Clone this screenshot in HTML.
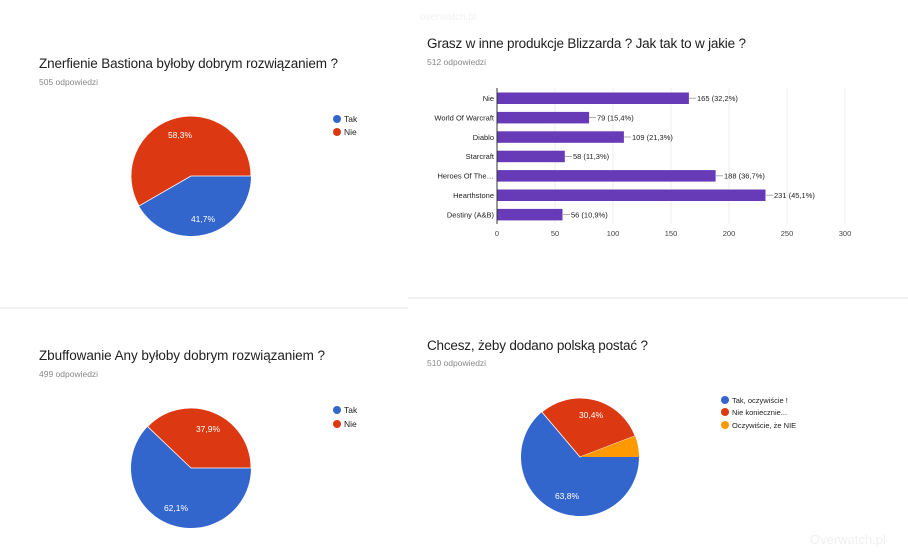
<!DOCTYPE html>
<html><head><meta charset="utf-8"><style>
html,body{margin:0;padding:0;background:#fff;width:908px;height:558px;overflow:hidden}
svg{display:block;font-family:"Liberation Sans",sans-serif}
</style></head><body>
<svg width="908" height="558" viewBox="0 0 908 558" xmlns="http://www.w3.org/2000/svg">
<rect width="908" height="558" fill="#fff"/>
<line x1="0" y1="308" x2="408" y2="308" stroke="#e6e6e6" stroke-width="1"/>
<line x1="408" y1="298" x2="908" y2="298" stroke="#e6e6e6" stroke-width="1"/>
<text x="420" y="20" font-size="10" fill="#f2f2f2">overwatch.pl</text>

<!-- Panel 1 -->
<text x="39" y="68" font-size="13.5" fill="#212121" textLength="299">Znerfienie Bastiona byłoby dobrym rozwiązaniem ?</text>
<text x="39" y="85" font-size="8.5" fill="#888">505 odpowiedzi</text>
<path d="M191,176 L251,176 A60,60 0 0 1 139,206 Z" fill="#3366cc"/>
<path d="M191,176 L139,206 A60,60 0 1 1 251,176 Z" fill="#dc3912" stroke="#fff" stroke-width="0.8"/>
<text x="180" y="138" font-size="8.5" fill="#fff" text-anchor="middle">58,3%</text>
<text x="203" y="222" font-size="8.5" fill="#fff" text-anchor="middle">41,7%</text>
<circle cx="337" cy="119" r="4" fill="#3366cc"/><text x="344" y="122" font-size="8.5" fill="#222">Tak</text>
<circle cx="337" cy="132" r="4" fill="#dc3912"/><text x="344" y="135" font-size="8.5" fill="#222">Nie</text>

<!-- Panel 2 bar -->
<text x="427" y="48" font-size="13.5" fill="#212121" textLength="319">Grasz w inne produkcje Blizzarda ? Jak tak to w jakie ?</text>
<text x="427" y="65" font-size="8.5" fill="#888">512 odpowiedzi</text>
<g stroke="#ececec" stroke-width="1">
<line x1="555" y1="88" x2="555" y2="224"/><line x1="613" y1="88" x2="613" y2="224"/>
<line x1="671" y1="88" x2="671" y2="224"/><line x1="729" y1="88" x2="729" y2="224"/>
<line x1="787" y1="88" x2="787" y2="224"/><line x1="845" y1="88" x2="845" y2="224"/>
</g>
<line x1="497" y1="88" x2="497" y2="224" stroke="#333" stroke-width="1"/>
<g fill="#673ab7">
<rect x="497.5" y="92.5" width="191.4" height="11.5"/>
<rect x="497.5" y="111.9" width="91.6" height="11.5"/>
<rect x="497.5" y="131.3" width="126.4" height="11.5"/>
<rect x="497.5" y="150.7" width="67.3" height="11.5"/>
<rect x="497.5" y="170.1" width="218.1" height="11.5"/>
<rect x="497.5" y="189.5" width="268" height="11.5"/>
<rect x="497.5" y="208.9" width="65" height="11.5"/>
</g>
<g font-size="7.5" fill="#222" text-anchor="end">
<text x="494" y="101">Nie</text>
<text x="494" y="120.4">World Of Warcraft</text>
<text x="494" y="139.8">Diablo</text>
<text x="494" y="159.2">Starcraft</text>
<text x="494" y="178.6">Heroes Of The…</text>
<text x="494" y="198">Hearthstone</text>
<text x="494" y="217.4">Destiny (A&amp;B)</text>
</g>
<g stroke="#999" stroke-width="0.8">
<line x1="689" y1="98.2" x2="696" y2="98.2"/><line x1="589" y1="117.6" x2="596" y2="117.6"/>
<line x1="624" y1="137" x2="631" y2="137"/><line x1="565" y1="156.4" x2="572" y2="156.4"/>
<line x1="716" y1="175.8" x2="723" y2="175.8"/><line x1="766" y1="195.2" x2="773" y2="195.2"/>
<line x1="563" y1="214.6" x2="570" y2="214.6"/>
</g>
<g font-size="7.5" fill="#222">
<text x="697" y="101">165 (32,2%)</text>
<text x="597" y="120.4">79 (15,4%)</text>
<text x="632" y="139.8">109 (21,3%)</text>
<text x="573" y="159.2">58 (11,3%)</text>
<text x="724" y="178.6">188 (36,7%)</text>
<text x="774" y="198">231 (45,1%)</text>
<text x="571" y="217.4">56 (10,9%)</text>
</g>
<g font-size="7.5" fill="#444" text-anchor="middle">
<text x="497" y="236">0</text><text x="555" y="236">50</text><text x="613" y="236">100</text>
<text x="671" y="236">150</text><text x="729" y="236">200</text><text x="787" y="236">250</text><text x="845" y="236">300</text>
</g>

<!-- Panel 3 -->
<text x="39" y="360" font-size="13.5" fill="#212121" textLength="286">Zbuffowanie Any byłoby dobrym rozwiązaniem ?</text>
<text x="39" y="377" font-size="8.5" fill="#888">499 odpowiedzi</text>
<path d="M191,468 L251,468 A60,60 0 1 1 147.6,426.6 Z" fill="#3366cc"/>
<path d="M191,468 L147.6,426.6 A60,60 0 0 1 251,468 Z" fill="#dc3912" stroke="#fff" stroke-width="0.8"/>
<text x="208" y="432" font-size="8.5" fill="#fff" text-anchor="middle">37,9%</text>
<text x="176" y="511" font-size="8.5" fill="#fff" text-anchor="middle">62,1%</text>
<circle cx="337" cy="410" r="4" fill="#3366cc"/><text x="344" y="413" font-size="8.5" fill="#222">Tak</text>
<circle cx="337" cy="424" r="4" fill="#dc3912"/><text x="344" y="427" font-size="8.5" fill="#222">Nie</text>

<!-- Panel 4 -->
<text x="427" y="350" font-size="13.5" fill="#212121" textLength="221">Chcesz, żeby dodano polską postać ?</text>
<text x="427" y="366" font-size="8.5" fill="#888">510 odpowiedzi</text>
<path d="M580,457 L639,457 A59,59 0 1 1 541.9,412 Z" fill="#3366cc"/>
<path d="M580,457 L541.9,412 A59,59 0 0 1 635.1,435.9 Z" fill="#dc3912" stroke="#fff" stroke-width="0.8"/>
<path d="M580,457 L635.1,435.9 A59,59 0 0 1 639,457 Z" fill="#ff9900"/>
<text x="591" y="418" font-size="8.5" fill="#fff" text-anchor="middle">30,4%</text>
<text x="567" y="499" font-size="8.5" fill="#fff" text-anchor="middle">63,8%</text>
<circle cx="725" cy="400" r="4" fill="#3366cc"/><text x="732" y="403" font-size="7.5" fill="#222">Tak, oczywiście !</text>
<circle cx="725" cy="412" r="4" fill="#dc3912"/><text x="732" y="415" font-size="7.5" fill="#222">Nie koniecznie...</text>
<circle cx="725" cy="425" r="4" fill="#ff9900"/><text x="732" y="428" font-size="7.5" fill="#222">Oczywiście, że NIE</text>

<text x="810" y="544" font-size="13" fill="#f0f0f0">Overwatch.pl</text>
</svg>
</body></html>
